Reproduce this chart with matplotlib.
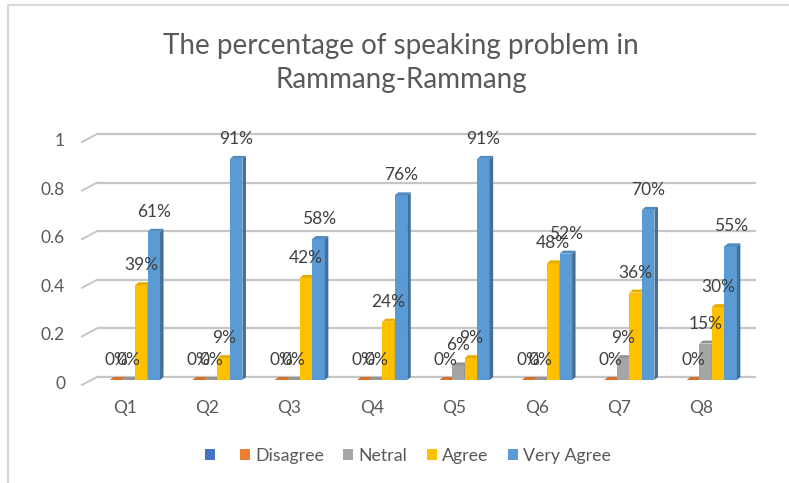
import matplotlib
matplotlib.use("Agg")
import matplotlib.pyplot as plt
from matplotlib.patches import Polygon, Patch
from matplotlib.transforms import ScaledTranslation
from matplotlib.lines import Line2D
import matplotlib.colors as mcolors
import numpy as np

plt.rcParams['font.family'] = ['Lato', 'DejaVu Sans']

# ---- data ----
categories = ['Q1', 'Q2', 'Q3', 'Q4', 'Q5', 'Q6', 'Q7', 'Q8']
disagree   = [0, 0, 0, 0, 0, 0, 0, 0]
netral     = [0, 0, 0, 0, 0.06, 0, 0.09, 0.15]
agree      = [0.39, 0.09, 0.42, 0.24, 0.09, 0.48, 0.36, 0.30]
very_agree = [0.61, 0.91, 0.58, 0.76, 0.91, 0.52, 0.70, 0.55]
y_ticks = [0, 0.2, 0.4, 0.6, 0.8, 1]
y_tick_labels = ['0', '0.2', '0.4', '0.6', '0.8', '1']
legend_labels = ['', 'Disagree', 'Netral', 'Agree', 'Very Agree']
title = 'The percentage of speaking problem in\nRammang-Rammang'

series = [disagree, netral, agree, very_agree]
colors = ['#ED7D31', '#A5A5A5', '#FFC000', '#5B9BD5']
legend_colors = ['#4472C4'] + colors

W, H = 789, 483
fig = plt.figure(figsize=(W / 100, H / 100), dpi=100)
ax = fig.add_axes([97 / W, 103 / H, 659 / W, 243 / H])
ax.set_xlim(-0.461, 7.536)
ax.set_ylim(0, 1)
ax.axis('off')

px_x = 82.4   # pixels per category
px_y = 243.0  # pixels per unit value
dx = 3.5 / px_x
dy = 3.0 / px_y

def shade(c, f):
    r, g, b = mcolors.to_rgb(c)
    return (r * f, g * f, b * f)

def off(xp, yp):
    return ScaledTranslation(xp / 100, yp / 100, fig.dpi_scale_trans)

# gridlines (back wall) with 3D left edge
gt = ax.get_yaxis_transform() + off(0, 3)
for t in y_ticks:
    ax.plot([0, 1], [t, t], transform=gt, color='#c6c6c6', lw=1.6,
            clip_on=False, zorder=1, solid_capstyle='butt')
    ax.plot([-15 / 659, 0], [t - 8 / px_y, t], transform=gt, color='#c6c6c6',
            lw=1.4, clip_on=False, zorder=1)

# bars with 3D faces
w = 0.152
offsets = [-1.5 * w, -0.5 * w, 0.5 * w, 1.5 * w]
x = np.arange(len(categories))
lab_tr = ax.transData + off(0, 20)
for s, (vals, c, o) in enumerate(zip(series, colors, offsets)):
    for i, v in enumerate(vals):
        xc = x[i] + o
        l, r = xc - w / 2, xc + w / 2
        ax.add_patch(Polygon([(l, 0), (r, 0), (r, v), (l, v)], closed=True,
                             facecolor=c, edgecolor='none', zorder=3 + s))
        ax.add_patch(Polygon([(r, 0), (r + dx, dy), (r + dx, v + dy), (r, v)],
                             closed=True, facecolor=shade(c, 0.72),
                             edgecolor='none', zorder=3 + s))
        ax.add_patch(Polygon([(l, v), (l + dx, v + dy), (r + dx, v + dy), (r, v)],
                             closed=True, facecolor=shade(c, 0.9),
                             edgecolor='none', zorder=3 + s))
        ax.text(xc, v, f"{round(v * 100):.0f}%", transform=lab_tr,
                ha='center', va='center', fontsize=12.5, color='#404040',
                zorder=20, clip_on=False)

# y tick labels
yt = ax.get_yaxis_transform() + off(0, -4)
for t, lab in zip(y_ticks, y_tick_labels):
    ax.text(-32 / 659, t, lab, transform=yt, ha='right', va='center',
            fontsize=12.5, color='#595959')

# x tick labels
xt = ax.transData + off(0, -28)
for i, lab in enumerate(categories):
    ax.text(x[i] - 0.125, 0, lab, transform=xt, ha='center', va='center',
            fontsize=12.5, color='#595959')

# title
fig.text(401 / W, 1 - 63 / H, title, ha='center', va='center', fontsize=20,
         color='#595959', linespacing=1.38)

# legend
handles = [Patch(facecolor=c, edgecolor='none') for c in legend_colors]
fig.legend(handles, legend_labels, loc='center', bbox_to_anchor=(408 / W, 27 / H),
           ncol=5, frameon=False, fontsize=12.8, handlelength=0.55, handleheight=0.55,
           handletextpad=0.3, columnspacing=1.1, labelcolor='#595959')

# chart frame (left and top edges)
fig.add_artist(Line2D([8 / W, 8 / W], [0, 1 - 5 / H], transform=fig.transFigure,
                      color='#d9d9d9', lw=1.5))
fig.add_artist(Line2D([8 / W, 1], [1 - 5 / H, 1 - 5 / H], transform=fig.transFigure,
                      color='#d9d9d9', lw=1.5))

fig.savefig('out.png', dpi=100)
